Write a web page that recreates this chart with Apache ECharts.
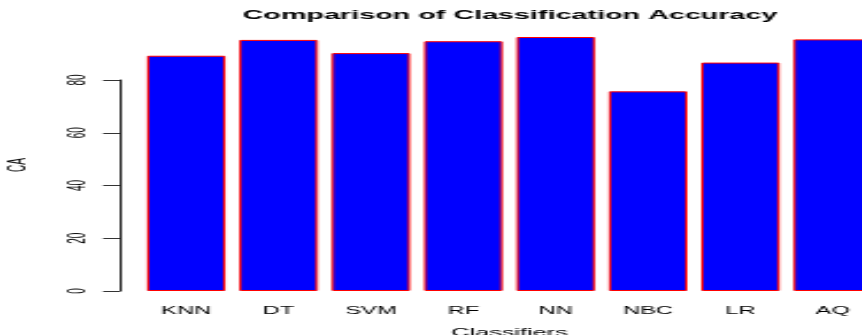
<!DOCTYPE html>
<html>
<head>
<meta charset="utf-8">
<script src="https://cdn.jsdelivr.net/npm/echarts@6/dist/echarts.min.js"></script>
<style>
  html, body { margin: 0; padding: 0; background: #fff; overflow: hidden; width: 862px; height: 335px; }
  #chart { width: 375px; height: 335px; transform: scaleX(2.29867); transform-origin: 0 0; }
</style>
</head>
<body>
<div id="chart"></div>
<script>
// Data
const categories = ['KNN', 'DT', 'SVM', 'RF', 'NN', 'NBC', 'LR', 'AQ'];
const accuracy = [89.2, 95.2, 90.2, 94.7, 96.3, 75.7, 86.6, 95.4];
const yTicks = [0, 20, 40, 60, 80];
const titleText = 'Comparison of Classification Accuracy';
const xTitle = 'Classifiers';
const yTitle = 'CA';

const FONT = "'Liberation Sans', Arial, sans-serif";
const chart = echarts.init(document.getElementById('chart'), null, { renderer: 'canvas' });

chart.setOption({
  animation: false,
  backgroundColor: '#ffffff',
  title: {
    text: titleText,
    left: 100.5,
    top: 4,
    textStyle: { fontFamily: FONT, fontSize: 12.5, fontWeight: 'bold', color: '#000' }
  },
  grid: { left: 60.9, right: -7.4, top: 80, bottom: 44, containLabel: false, outerBoundsMode: 'none' },
  xAxis: {
    type: 'category',
    data: categories,
    name: xTitle,
    nameLocation: 'middle',
    nameGap: 36,
    nameTextStyle: { fontFamily: FONT, fontSize: 11, color: '#000' },
    axisLine: { show: false },
    axisTick: { show: false },
    axisLabel: { fontFamily: FONT, fontSize: 10.3, color: '#000', margin: 15.5, interval: 0 },
    splitLine: { show: false }
  },
  yAxis: {
    type: 'value',
    min: yTicks[0],
    max: yTicks[yTicks.length - 1],
    interval: yTicks[1] - yTicks[0],
    offset: 8.7,
    axisLine: { show: true, lineStyle: { color: '#222', width: 1 } },
    axisTick: { show: true, length: 7.4, lineStyle: { color: '#333', width: 1 } },
    axisLabel: { fontFamily: FONT, fontSize: 10, color: '#000', rotate: 90, margin: 12.5 },
    splitLine: { show: false }
  },
  graphic: [{
    type: 'text',
    x: 7.8,
    y: 165,
    rotation: Math.PI / 2,
    style: { text: yTitle, fontFamily: FONT, fontSize: 10, fill: '#000', align: 'center', verticalAlign: 'middle' }
  }],
  series: [{
    type: 'bar',
    data: accuracy,
    clip: false,
    barCategoryGap: '15%',
    itemStyle: { color: '#0000ff', borderColor: '#ff0000', borderWidth: 1 }
  }]
});
</script>
</body>
</html>
